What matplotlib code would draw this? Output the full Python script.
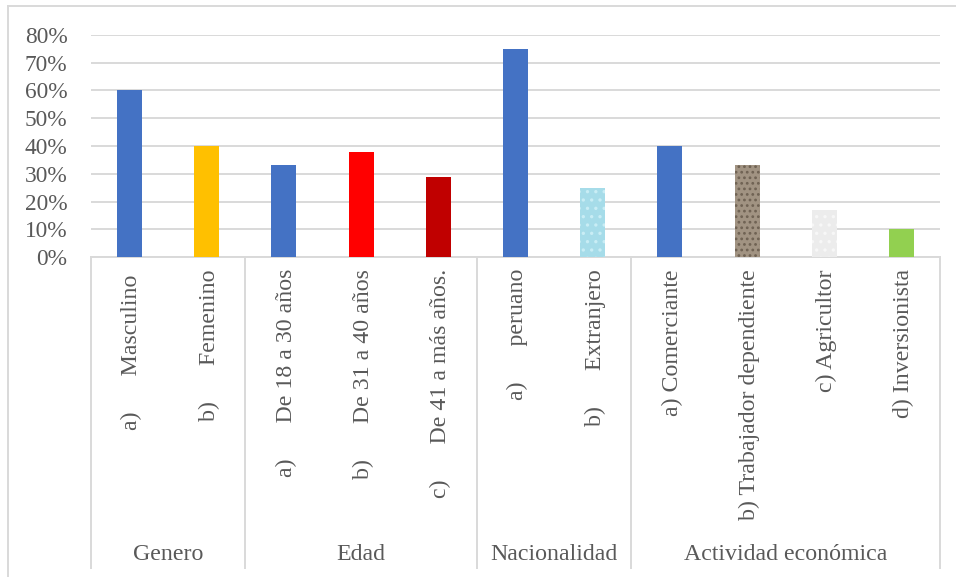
#!/usr/bin/env python3
from matplotlib import pyplot as plt
from matplotlib import transforms
from matplotlib.lines import Line2D
from matplotlib.ticker import PercentFormatter, MultipleLocator

# category labels (bottom-level), their groups and the percentages
labels = ["a)      Masculino ", "b)      Femenino",
          "a)      De 18 a 30 años", "b)      De 31 a 40 años", "c)      De 41 a más años.",
          "a)      peruano", "b)      Extranjero",
          "a) Comerciante", "b) Trabajador dependiente", "c) Agricultor", "d) Inversionista"]
values = [60, 40, 33, 38, 29, 75, 25, 40, 33, 17, 10]
groups = ["Genero", "Edad", "Nacionalidad", "Actividad económica"]
group_sizes = [2, 3, 2, 4]

colors = ["#4472C4", "#FFC000", "#4472C4", "#FF0000", "#C00000", "#4472C4",
          "#A6DCE9", "#4472C4", "#A19382", "#ECECEC", "#92D050"]
# speckle overlay for the textured fills (None = plain)
speckle = [None]*11
speckle[6] = ("#C9EDF5", "..")
speckle[8] = ("#6F6253", "...")
speckle[9] = ("#F7F7F7", "..")

txt = "#595959"
grid = "#D9D9D9"
plt.rcParams['font.family'] = ['Liberation Serif', 'DejaVu Serif']
plt.rcParams['hatch.linewidth'] = 1.2
fs = 17.2

W, H = 956, 577
f = plt.figure(figsize=(W/100, H/100), dpi=100)
x0, x1, ytop, ybase = 91, 940, 35, 257
ax = f.add_axes((x0/W, 1-ybase/H, (x1-x0)/W, (ybase-ytop)/H))

n = len(values)
xs = list(range(n))
ax.bar(xs, values, width=0.325, color=colors, zorder=3, linewidth=0)
for x, v, s in zip(xs, values, speckle):
  if s:
    ax.bar(x, v, width=0.325, facecolor='none', edgecolor=s[0], hatch=s[1],
           linewidth=0, zorder=4)

ax.set_xlim(-0.5, n-0.5)
ax.set_ylim(0, 80)
ax.yaxis.set_major_locator(MultipleLocator(10))
ax.yaxis.set_major_formatter(PercentFormatter(xmax=100, decimals=0))
ax.grid(axis='y', color=grid, lw=1.4, zorder=0)
ax.tick_params(axis='y', length=0, pad=17, labelsize=16.8, labelcolor=txt)
ax.set_xticks([])
for s in ax.spines.values():
  s.set_visible(False)

# multi-level category axis drawn below the plot area
tr = transforms.blended_transform_factory(ax.transData, f.transFigure)
fy = lambda py: 1-py/H
ax.plot([-0.5, n-0.5], [fy(ybase)]*2, color=grid, lw=1.4, transform=tr, clip_on=False)
edges = [-0.5]
for g in group_sizes:
  edges.append(edges[-1]+g)
for e in edges:
  ax.plot([e, e], [fy(ybase), fy(568)], color=grid, lw=1.4, transform=tr, clip_on=False)
for x, lab in zip(xs, labels):
  ax.text(x+0.03, fy(269), lab, rotation=90, ha='center', va='top', fontsize=fs,
          color=txt, transform=tr)
for g, a, b in zip(groups, edges[:-1], edges[1:]):
  ax.text((a+b)/2, fy(554), g, ha='center', va='center', fontsize=fs,
          color=txt, transform=tr)

# chart-area border (left and top edges)
f.add_artist(Line2D([8/W, 8/W], [0, fy(6)], color=grid, lw=1.4, transform=f.transFigure))
f.add_artist(Line2D([8/W, 1], [fy(6), fy(6)], color=grid, lw=1.4, transform=f.transFigure))

f.savefig("out.png", dpi=100)
